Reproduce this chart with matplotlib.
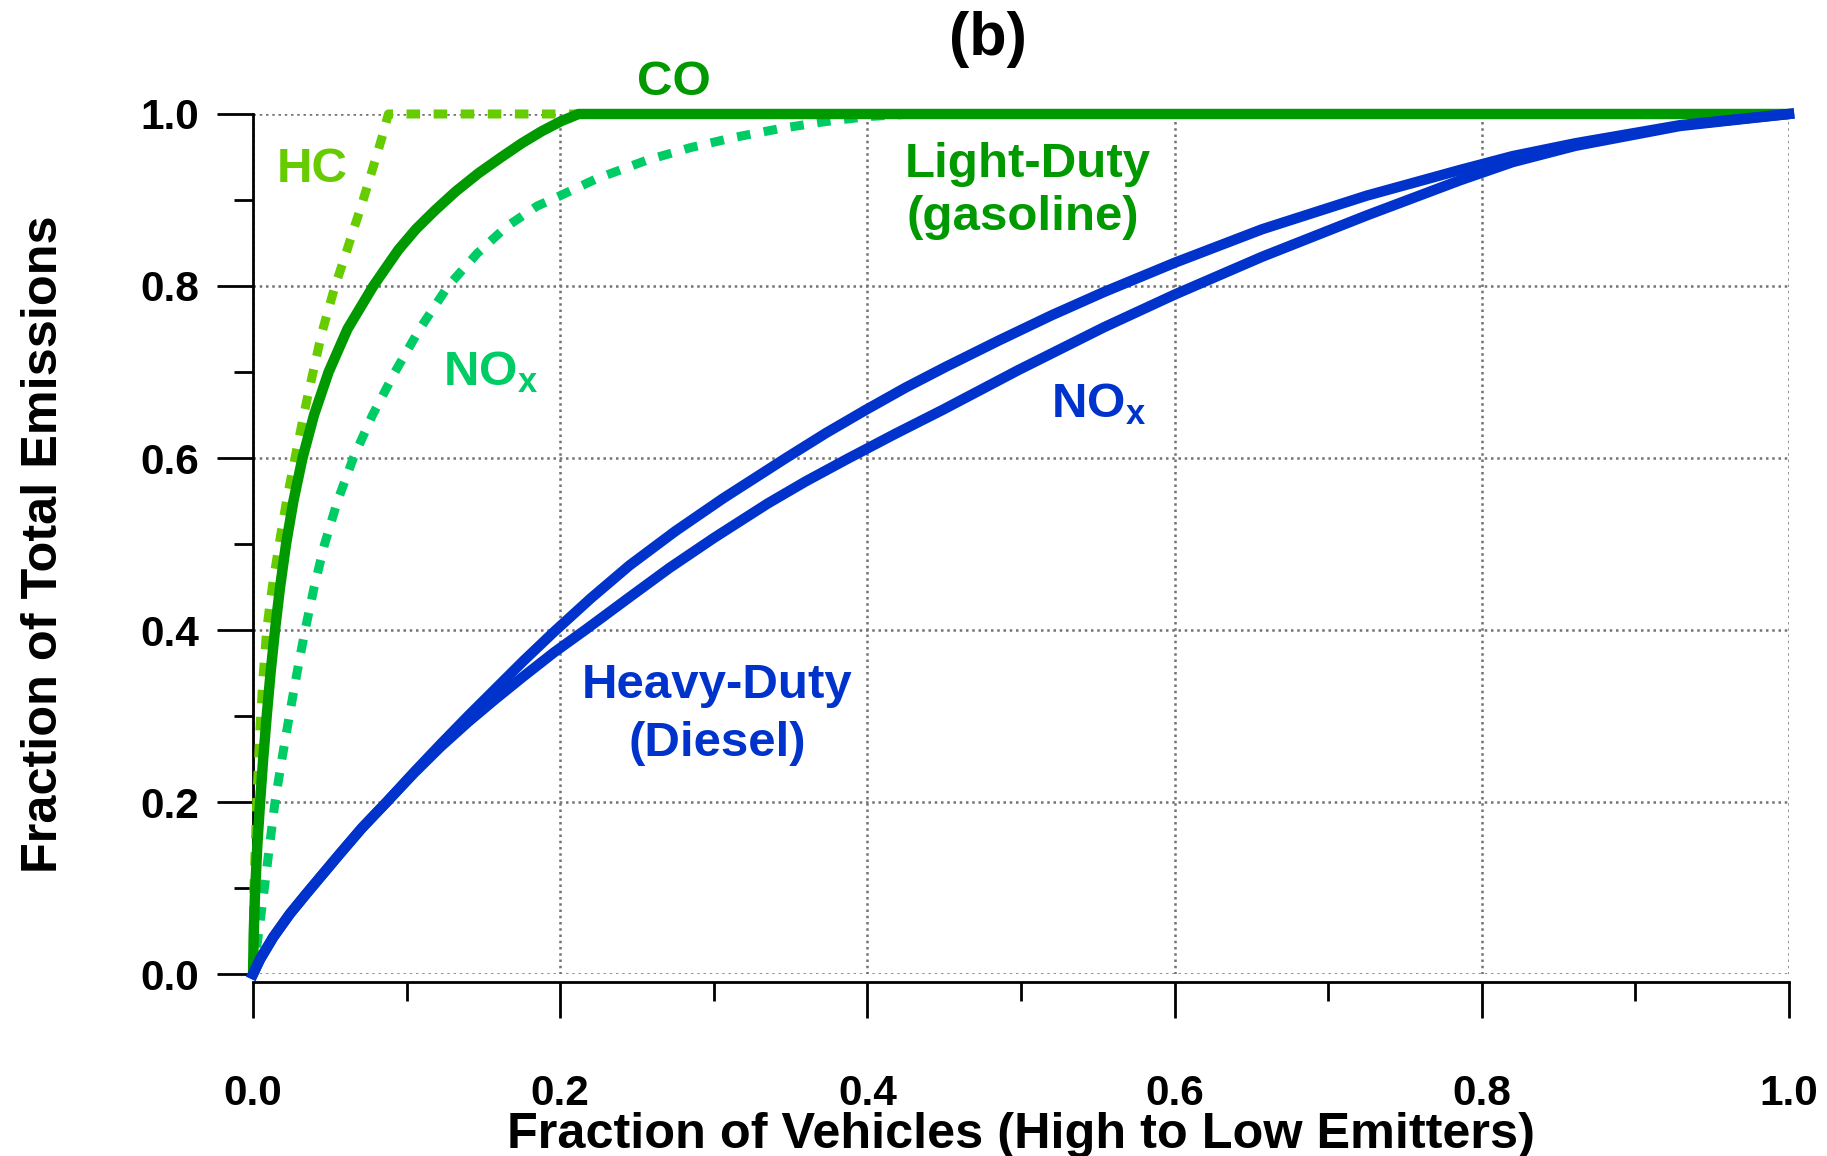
import numpy as np
import matplotlib
matplotlib.use("Agg")
import matplotlib.pyplot as plt
from matplotlib.ticker import MultipleLocator, FormatStrFormatter

# =============================================================================
# DATOS
# =============================================================================

# Light-duty (gasolina): CO, curva continua verde oscuro
co_x = [0.0, 0.0005, 0.0013, 0.0028, 0.0046, 0.0066, 0.0089, 0.0114, 0.0143,
        0.0176, 0.0215, 0.0263, 0.0322, 0.0397, 0.0492, 0.0615, 0.0783,
        0.0946, 0.106, 0.1185, 0.132, 0.1467, 0.161, 0.175, 0.188, 0.201,
        0.212, 1.0]
co_y = [0.0, 0.05, 0.094, 0.15, 0.2, 0.25, 0.3, 0.35, 0.4,
        0.45, 0.5, 0.55, 0.6, 0.65, 0.7, 0.75, 0.8,
        0.842, 0.866, 0.888, 0.91, 0.931, 0.949, 0.966, 0.98, 0.992,
        1.0, 1.0]

# Light-duty: HC, discontinua verde claro
hc_x = [0.0, 0.0005, 0.0024, 0.0046, 0.0065, 0.0089, 0.011, 0.0132, 0.0175,
        0.0219, 0.0273, 0.035, 0.0447, 0.0534, 0.060, 0.0653, 0.0705, 0.0751,
        0.0795, 0.084, 0.0881, 1.0]
hc_y = [0.0, 0.094, 0.2, 0.288, 0.345, 0.4, 0.43, 0.458, 0.505,
        0.551, 0.6, 0.667, 0.745, 0.8, 0.835, 0.865, 0.893, 0.92,
        0.946, 0.973, 1.0, 1.0]

# Light-duty: NOx, discontinua verde azulado
nox_ld_x = [0.0, 0.0038, 0.0074, 0.0108, 0.0143, 0.0188, 0.0236, 0.0286,
            0.0339, 0.0398, 0.0466, 0.055, 0.0653, 0.0778, 0.0924, 0.1085,
            0.127, 0.146, 0.165, 0.185, 0.2, 0.224, 0.256, 0.285, 0.314,
            0.343, 0.372, 0.40, 0.43, 1.0]
nox_ld_y = [0.0, 0.05, 0.1, 0.15, 0.2, 0.25, 0.3, 0.35,
            0.4, 0.45, 0.5, 0.55, 0.6, 0.65, 0.7, 0.75,
            0.8, 0.838, 0.869, 0.893, 0.905, 0.925, 0.946, 0.961, 0.973,
            0.983, 0.991, 0.997, 1.0, 1.0]

# Heavy-duty (diésel): dos curvas de NOx
hd1_x = [0.0, 0.0045, 0.0132, 0.024, 0.035, 0.0566, 0.071, 0.087, 0.105,
         0.122, 0.14, 0.158, 0.176, 0.196, 0.22, 0.245, 0.275, 0.306, 0.347,
         0.373, 0.399, 0.425, 0.451, 0.486, 0.52, 0.554, 0.6, 0.657, 0.725,
         0.786, 0.82, 0.861, 0.929, 1.0]
hd1_y = [0.0, 0.017, 0.043, 0.07, 0.094, 0.14, 0.17, 0.2, 0.235,
         0.267, 0.3, 0.332, 0.364, 0.398, 0.437, 0.475, 0.515, 0.553, 0.6,
         0.629, 0.656, 0.682, 0.706, 0.737, 0.766, 0.793, 0.827, 0.866, 0.905,
         0.935, 0.951, 0.966, 0.987, 1.0]

hd2_x = [0.0, 0.0045, 0.0132, 0.024, 0.035, 0.0566, 0.071, 0.087, 0.105,
         0.122, 0.14, 0.158, 0.176, 0.196, 0.217, 0.245, 0.271, 0.3, 0.335,
         0.36, 0.387, 0.418, 0.449, 0.498, 0.554, 0.6, 0.657, 0.725, 0.786,
         0.82, 0.861, 0.929, 1.0]
hd2_y = [0.0, 0.017, 0.043, 0.07, 0.094, 0.14, 0.17, 0.2, 0.234,
         0.264, 0.293, 0.32, 0.346, 0.374, 0.401, 0.438, 0.472, 0.507, 0.547,
         0.573, 0.599, 0.628, 0.656, 0.702, 0.752, 0.79, 0.834, 0.882, 0.923,
         0.944, 0.963, 0.986, 1.0]

# =============================================================================
# ESTILO
# =============================================================================

plt.rcParams['font.family'] = ['Liberation Sans', 'DejaVu Sans']
plt.rcParams['font.weight'] = 'bold'
plt.rcParams['mathtext.fontset'] = 'custom'
plt.rcParams['mathtext.rm'] = 'Liberation Sans:bold'
plt.rcParams['mathtext.bf'] = 'Liberation Sans:bold'
plt.rcParams['mathtext.it'] = 'Liberation Sans:bold'

c_co = '#009900'
c_hc = '#66cc00'
c_nox = '#00cc66'
c_hd = '#0033cc'

fig = plt.figure(figsize=(18.27, 11.56), dpi=100)
ax = fig.add_axes([0.1385, 0.1574, 0.8407, 0.744])

lw_sol = 7.5
lw_dash = 6.5
dash = (1.5, 1.5)

ax.plot(hc_x, hc_y, color=c_hc, lw=lw_dash, dashes=dash, dash_capstyle='butt',
        clip_on=False, zorder=3)
ax.plot(nox_ld_x, nox_ld_y, color=c_nox, lw=lw_dash, dashes=dash,
        dash_capstyle='butt', clip_on=False, zorder=3)
ax.plot(co_x, co_y, color=c_co, lw=lw_sol, solid_capstyle='butt',
        clip_on=False, zorder=4)
ax.plot(hd2_x, hd2_y, color=c_hd, lw=lw_sol, clip_on=False, zorder=5)
ax.plot(hd1_x, hd1_y, color=c_hd, lw=lw_sol, clip_on=False, zorder=5)

# Etiquetas dentro del gráfico
fs_lab = 35.5
ax.text(0.250, 1.022, 'CO', color=c_co, fontsize=fs_lab, fontweight='bold',
        ha='left', va='baseline')
ax.text(0.0156, 0.921, 'HC', color=c_hc, fontsize=fs_lab, fontweight='bold',
        ha='left', va='baseline')
ax.text(0.1237, 0.685, r'NO$_{\mathrm{x}}$', color=c_nox, fontsize=fs_lab,
        fontweight='bold', ha='left', va='baseline')
ax.text(0.5195, 0.648, r'NO$_{\mathrm{x}}$', color=c_hd, fontsize=fs_lab,
        fontweight='bold', ha='left', va='baseline')
ax.text(0.5046, 0.927, 'Light-Duty', color=c_co, fontsize=fs_lab,
        fontweight='bold', ha='center', va='baseline')
ax.text(0.5013, 0.865, '(gasoline)', color=c_co, fontsize=fs_lab,
        fontweight='bold', ha='center', va='baseline')
ax.text(0.302, 0.321, 'Heavy-Duty', color=c_hd, fontsize=fs_lab,
        fontweight='bold', ha='center', va='baseline')
ax.text(0.302, 0.254, '(Diesel)', color=c_hd, fontsize=fs_lab,
        fontweight='bold', ha='center', va='baseline')

# Ejes
ax.set_xlim(0, 1)
ax.set_ylim(0, 1)
for s in ['top', 'right']:
    ax.spines[s].set_visible(False)
ax.spines['bottom'].set_position(('outward', 5.8))
ax.spines['left'].set_linewidth(2)
ax.spines['bottom'].set_linewidth(2)

ax.xaxis.set_major_locator(MultipleLocator(0.2))
ax.xaxis.set_minor_locator(MultipleLocator(0.1))
ax.yaxis.set_major_locator(MultipleLocator(0.2))
ax.yaxis.set_minor_locator(MultipleLocator(0.1))
ax.xaxis.set_major_formatter(FormatStrFormatter('%.1f'))
ax.yaxis.set_major_formatter(FormatStrFormatter('%.1f'))

ax.tick_params(which='major', length=26, width=2, labelsize=30.5)
ax.tick_params(which='minor', length=13.7, width=2)
ax.tick_params(axis='x', which='major', pad=40)
ax.tick_params(axis='y', which='major', pad=13)

ax.grid(True, which='major', color='#737373', lw=1.8,
        linestyle=(0, (1, 1.5)), zorder=1)
ax.set_axisbelow(True)

ax.set_xlabel('Fraction of Vehicles (High to Low Emitters)', fontsize=36.3,
              fontweight='bold')
ax.xaxis.label.set_verticalalignment('center')
ax.xaxis.set_label_coords(0.5, -0.1868)
ax.set_ylabel('Fraction of Total Emissions', fontsize=36.3, fontweight='bold')
ax.yaxis.label.set_verticalalignment('center')
ax.yaxis.set_label_coords(-0.136, 0.5)

fig.text(0.541, 0.966, '(b)', fontsize=44, fontweight='bold',
         ha='center', va='center')

fig.savefig('out.png', dpi=100)
